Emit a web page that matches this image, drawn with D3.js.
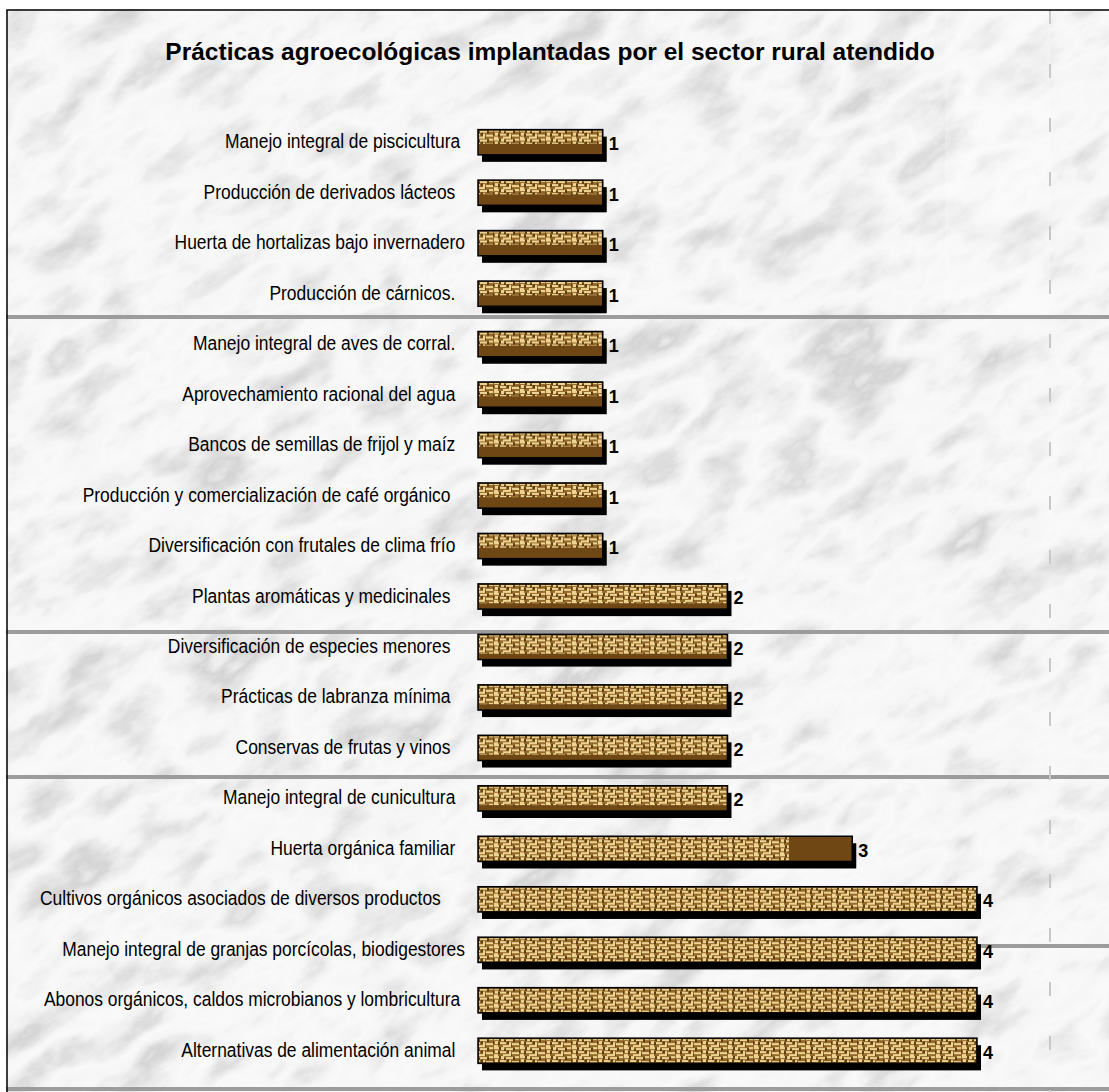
<!DOCTYPE html>
<html><head><meta charset="utf-8">
<script src="https://cdn.jsdelivr.net/npm/d3@7"></script>
<style>html,body{margin:0;padding:0;background:#fff;}svg{display:block;}text{white-space:pre;}</style>
</head><body>
<script>
const titleText = "Prácticas agroecológicas implantadas por el sector rural atendido";
const categories = [
  "Manejo integral de piscicultura ",
  "Producción de derivados lácteos  ",
  "Huerta de hortalizas bajo invernadero",
  "Producción de cárnicos.  ",
  "Manejo integral de aves de corral.  ",
  "Aprovechamiento racional del agua  ",
  "Bancos de semillas de frijol y maíz  ",
  "Producción y comercialización de café orgánico   ",
  "Diversificación con frutales de clima frío  ",
  "Plantas aromáticas y medicinales   ",
  "Diversificación de especies menores   ",
  "Prácticas de labranza mínima   ",
  "Conservas de frutas y vinos   ",
  "Manejo integral de cunicultura  ",
  "Huerta orgánica familiar  ",
  "Cultivos orgánicos asociados de diversos productos     ",
  "Manejo integral de granjas porcícolas, biodigestores",
  "Abonos orgánicos, caldos microbianos y lombricultura ",
  "Alternativas de alimentación animal  "
];
const values = [1,1,1,1,1,1,1,1,1,2,2,2,2,2,3,4,4,4,4];
const valueLabels = values.map(String);

const W = 1109, H = 1092;
const svg = d3.select("body").append("svg").attr("width", W).attr("height", H);
const defs = svg.append("defs");

// marble filter
const f = defs.append("filter").attr("id","marble").attr("x",0).attr("y",0).attr("width",1).attr("height",1);
f.append("feTurbulence").attr("type","fractalNoise").attr("baseFrequency","0.01 0.02").attr("numOctaves",6).attr("seed",11).attr("result","n");
f.append("feColorMatrix").attr("type","matrix").attr("values","0.7 0.3 0 0 0  0.7 0.3 0 0 0  0.7 0.3 0 0 0  0 0 0 0 1").attr("result","g");
const ct = f.append("feComponentTransfer");
["feFuncR","feFuncG","feFuncB"].forEach(k=>ct.append(k).attr("type","table").attr("tableValues","0.9 0.82 0.87 0.66 0.8 0.92 0.95 0.87 0.72 0.85 0.93 0.87"));

// bar texture pattern
const pat = defs.append("pattern").attr("id","tex").attr("patternUnits","userSpaceOnUse").attr("width",26).attr("height",9);
pat.append("rect").attr("width",26).attr("height",9).attr("fill","#94692c");
[[0,0,5,2],[7,0,3,3],[12,1,7,2],[21,0,4,2],[1,3,3,3],[6,4,6,2],[15,4,2,3],[18,5,7,2],[0,7,4,2],[9,7,8,2]]
  .forEach(r=>pat.append("rect").attr("x",r[0]).attr("y",r[1]).attr("width",r[2]).attr("height",r[3]).attr("fill","#eed492"));
[[5,0,2,3],[10,2,2,2],[19,1,2,3],[4,4,2,3],[13,3,2,3],[25,3,1,3],[17,7,1,2]]
  .forEach(r=>pat.append("rect").attr("x",r[0]).attr("y",r[1]).attr("width",r[2]).attr("height",r[3]).attr("fill","#5e3f14"));

// background
svg.append("rect").attr("width",W).attr("height",H).attr("fill","#fff");
const bg = svg.append("g");
bg.append("g").attr("transform","translate(554,550) rotate(-32) translate(-900,-900)")
  .append("rect").attr("width",1800).attr("height",1800).attr("filter","url(#marble)");
// tile seams
const seams = [[0,317,W],[0,632,W],[0,777,W],[950,946,W],[0,1089,W]];
seams.forEach(s=>bg.append("rect").attr("x",s[0]).attr("y",s[1]-2).attr("width",s[2]-s[0]).attr("height",4).attr("fill","#9c9c9c"));
bg.append("rect").attr("x",945).attr("y",10).attr("width",105).attr("height",305).attr("fill","#fff").attr("opacity",0.25);
[1050].forEach(x=>bg.append("line").attr("x1",x).attr("x2",x).attr("y1",10).attr("y2",H).attr("stroke","#c8c8c8").attr("stroke-width",2).attr("stroke-dasharray","14 40"));
// white outside frame
svg.append("rect").attr("x",0).attr("y",0).attr("width",W).attr("height",9).attr("fill","#fff");
svg.append("rect").attr("x",0).attr("y",0).attr("width",6).attr("height",H).attr("fill","#fff");
svg.append("rect").attr("x",7).attr("y",10).attr("width",W+10).attr("height",H+10).attr("fill","none").attr("stroke","#000").attr("stroke-width",1.5);

// title
svg.append("text").attr("x",550).attr("y",60).attr("text-anchor","middle")
  .attr("font-family","Liberation Sans, Arial, sans-serif").attr("font-weight","bold").attr("font-size",24.5)
  .attr("fill","#000").text(titleText);

const x = d3.scaleLinear().domain([0,4]).range([478,977]);
const y = d3.scaleBand().domain(categories).range([117,1076]).paddingInner(0.5).paddingOuter(0.25);
const bw = y.bandwidth();

const rows = svg.append("g").selectAll("g").data(categories.map((c,i)=>({c, v:values[i], l:valueLabels[i]})))
  .join("g").attr("transform",d=>`translate(0,${y(d.c)})`);

// shadow
rows.append("rect").attr("x",x(0)+4).attr("y",7).attr("width",d=>x(d.v)-x(0)).attr("height",bw).attr("fill","#000");
// brown base
rows.append("rect").attr("x",x(0)).attr("y",0).attr("width",d=>x(d.v)-x(0)).attr("height",bw).attr("fill","#6e4714");
// texture
rows.append("rect").attr("x",x(0)+1).attr("y",1)
  .attr("width",d=>x(d.v===3?2.5:d.v)-x(0)-2)
  .attr("height",d=>(bw-2)*Math.min(1,0.35+0.22*d.v)).attr("fill","url(#tex)");
// border
rows.append("rect").attr("x",x(0)).attr("y",0).attr("width",d=>x(d.v)-x(0)).attr("height",bw)
  .attr("fill","none").attr("stroke","#000").attr("stroke-width",1.5);

// value labels
rows.append("text").attr("x",d=>x(d.v)+6).attr("y",bw/2+8)
  .attr("font-family","Liberation Sans, Arial, sans-serif").attr("font-weight","bold").attr("font-size",18)
  .attr("fill","#000").text(d=>d.l);

// category labels
rows.append("text").attr("transform",`translate(465,${bw/2+6}) scale(0.83,1)`).attr("text-anchor","end")
  .attr("font-family","Liberation Sans, Arial, sans-serif").attr("font-size",21).attr("fill","#000")
  .text(d=>d.c);
</script>
</body></html>
